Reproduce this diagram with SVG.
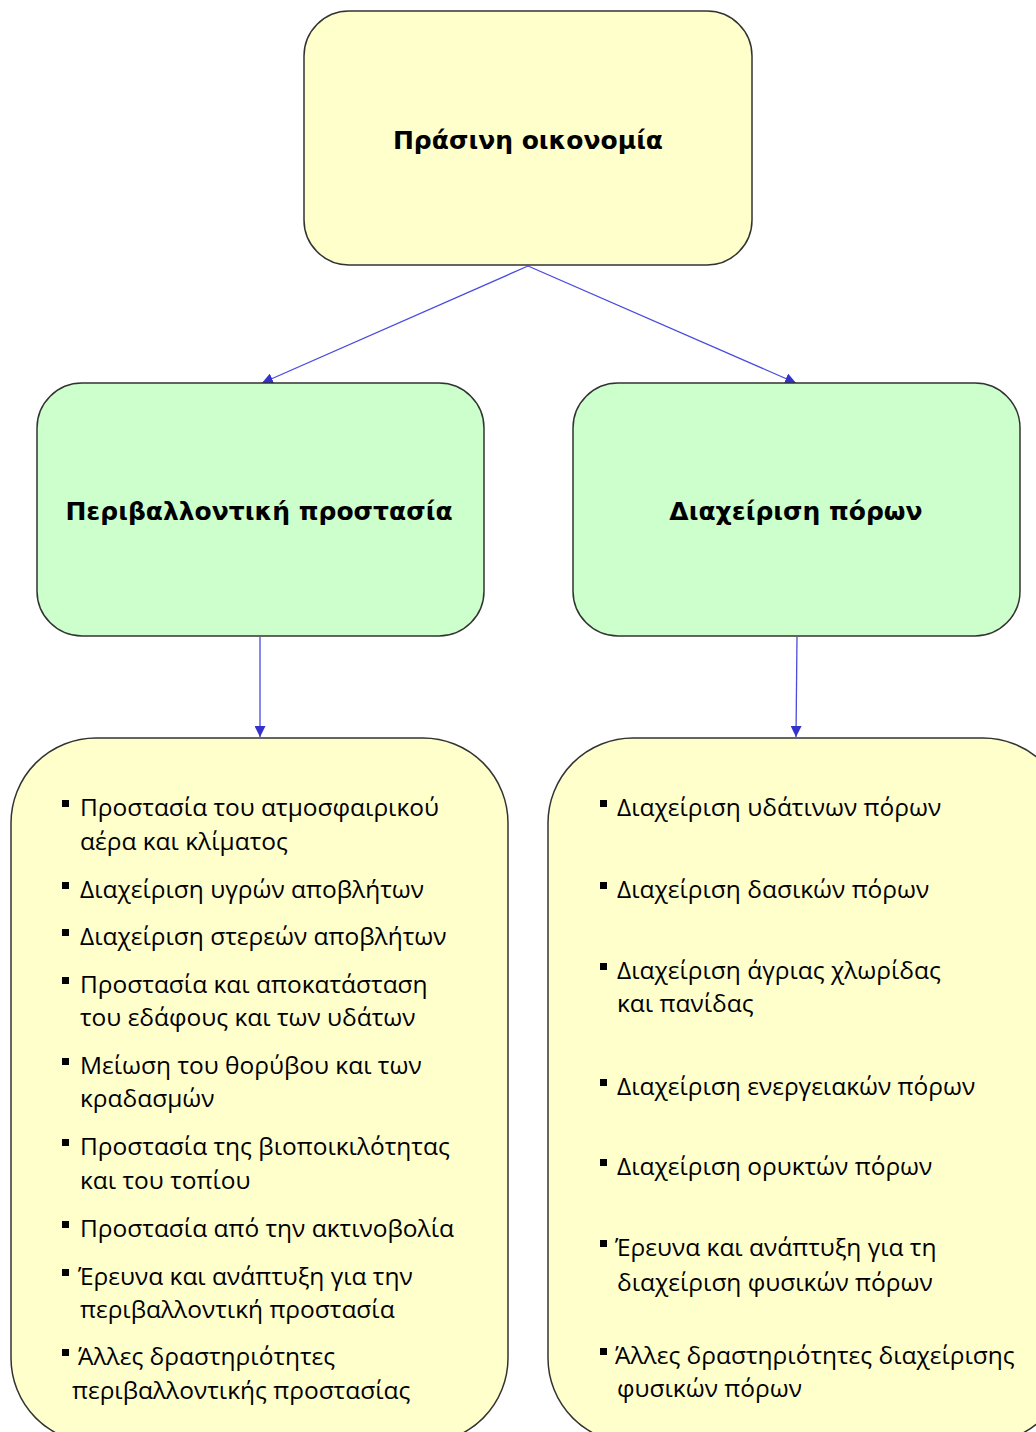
<svg xmlns="http://www.w3.org/2000/svg" width="1036" height="1432" viewBox="0 0 1036 1432">
  <defs>
    <marker id="arrow" viewBox="0 0 10 10" refX="10" refY="5" markerWidth="11" markerHeight="11" markerUnits="userSpaceOnUse" orient="auto">
      <path d="M0,0 L10,5 L0,10 z" fill="#3333CC"/>
    </marker>
  </defs>
  <style>
    .box { stroke: #333333; stroke-width: 1.5; }
    .yellow { fill: #FFFFCC; }
    .green { fill: #CCFFCC; }
    .head { font-family: "DejaVu Sans", Verdana, sans-serif; font-weight: bold; font-size: 25px; fill: #000; }
    .item { font-family: "Open Sans", "Noto Sans", sans-serif; font-size: 24.5px; fill: #000; }
    .bullet { fill: #000; }
    .conn { stroke: #4A4AE0; stroke-width: 1.3; fill: none; marker-end: url(#arrow); }
  </style>

  <g id="connectors">
    <line class="conn" x1="528" y1="266" x2="262" y2="383"/>
    <line class="conn" x1="528" y1="266" x2="796" y2="383"/>
    <line class="conn" x1="260" y1="637" x2="260" y2="737"/>
    <line class="conn" x1="797" y1="637" x2="796" y2="737"/>
  </g>

  <g id="node-green-economy">
    <rect class="box yellow" x="304" y="11" width="448" height="254" rx="45" ry="45"/>
    <text class="head" x="528" y="149" text-anchor="middle">Πράσινη  οικονομία</text>
  </g>

  <g id="node-env-protection">
    <rect class="box green" x="37" y="383" width="447" height="253" rx="45" ry="45"/>
    <text class="head" x="259" y="520" text-anchor="middle">Περιβαλλοντική  προστασία</text>
  </g>

  <g id="node-resource-management">
    <rect class="box green" x="573" y="383" width="447" height="253" rx="45" ry="45"/>
    <text class="head" x="796" y="520" text-anchor="middle">Διαχείριση  πόρων</text>
  </g>

  <g id="node-env-list">
    <rect class="box yellow" x="11" y="738" width="497" height="705" rx="85" ry="85"/>
    <g class="bullet">
      <rect x="62" y="800" width="7" height="7"/>
      <rect x="62" y="882" width="7" height="7"/>
      <rect x="62" y="929" width="7" height="7"/>
      <rect x="62" y="977" width="7" height="7"/>
      <rect x="62" y="1058" width="7" height="7"/>
      <rect x="62" y="1139" width="7" height="7"/>
      <rect x="62" y="1221" width="7" height="7"/>
      <rect x="62" y="1269" width="7" height="7"/>
      <rect x="62" y="1349" width="7" height="7"/>
    </g>
    <text class="item" x="80" y="816">Προστασία του ατμοσφαιρικού</text>
    <text class="item" x="80" y="850">αέρα και κλίματος</text>
    <text class="item" x="80" y="898">Διαχείριση υγρών αποβλήτων</text>
    <text class="item" x="80" y="945">Διαχείριση στερεών αποβλήτων</text>
    <text class="item" x="80" y="993">Προστασία και αποκατάσταση</text>
    <text class="item" x="80" y="1026">του εδάφους και των υδάτων</text>
    <text class="item" x="80" y="1074">Μείωση του θορύβου και των</text>
    <text class="item" x="80" y="1107">κραδασμών</text>
    <text class="item" x="80" y="1155">Προστασία της βιοποικιλότητας</text>
    <text class="item" x="80" y="1189">και του τοπίου</text>
    <text class="item" x="80" y="1237">Προστασία από την ακτινοβολία</text>
    <text class="item" x="78" y="1285">Έρευνα και ανάπτυξη για την</text>
    <text class="item" x="80" y="1318">περιβαλλοντική προστασία</text>
    <text class="item" x="78" y="1365">Άλλες δραστηριότητες</text>
    <text class="item" x="72" y="1399">περιβαλλοντικής προστασίας</text>
  </g>

  <g id="node-resource-list">
    <rect class="box yellow" x="548" y="738" width="520" height="705" rx="85" ry="85"/>
    <g class="bullet">
      <rect x="600" y="800" width="7" height="7"/>
      <rect x="600" y="882" width="7" height="7"/>
      <rect x="600" y="963" width="7" height="7"/>
      <rect x="600" y="1079" width="7" height="7"/>
      <rect x="600" y="1159" width="7" height="7"/>
      <rect x="600" y="1240" width="7" height="7"/>
      <rect x="600" y="1348" width="7" height="7"/>
    </g>
    <text class="item" x="617" y="816">Διαχείριση υδάτινων πόρων</text>
    <text class="item" x="617" y="898">Διαχείριση δασικών πόρων</text>
    <text class="item" x="617" y="979">Διαχείριση άγριας χλωρίδας</text>
    <text class="item" x="617" y="1012">και πανίδας</text>
    <text class="item" x="617" y="1095">Διαχείριση ενεργειακών πόρων</text>
    <text class="item" x="617" y="1175">Διαχείριση ορυκτών πόρων</text>
    <text class="item" x="615" y="1256">Έρευνα και ανάπτυξη για τη</text>
    <text class="item" x="617" y="1291">διαχείριση φυσικών πόρων</text>
    <text class="item" x="615" y="1364">Άλλες δραστηριότητες διαχείρισης</text>
    <text class="item" x="617" y="1397">φυσικών πόρων</text>
  </g>
</svg>
